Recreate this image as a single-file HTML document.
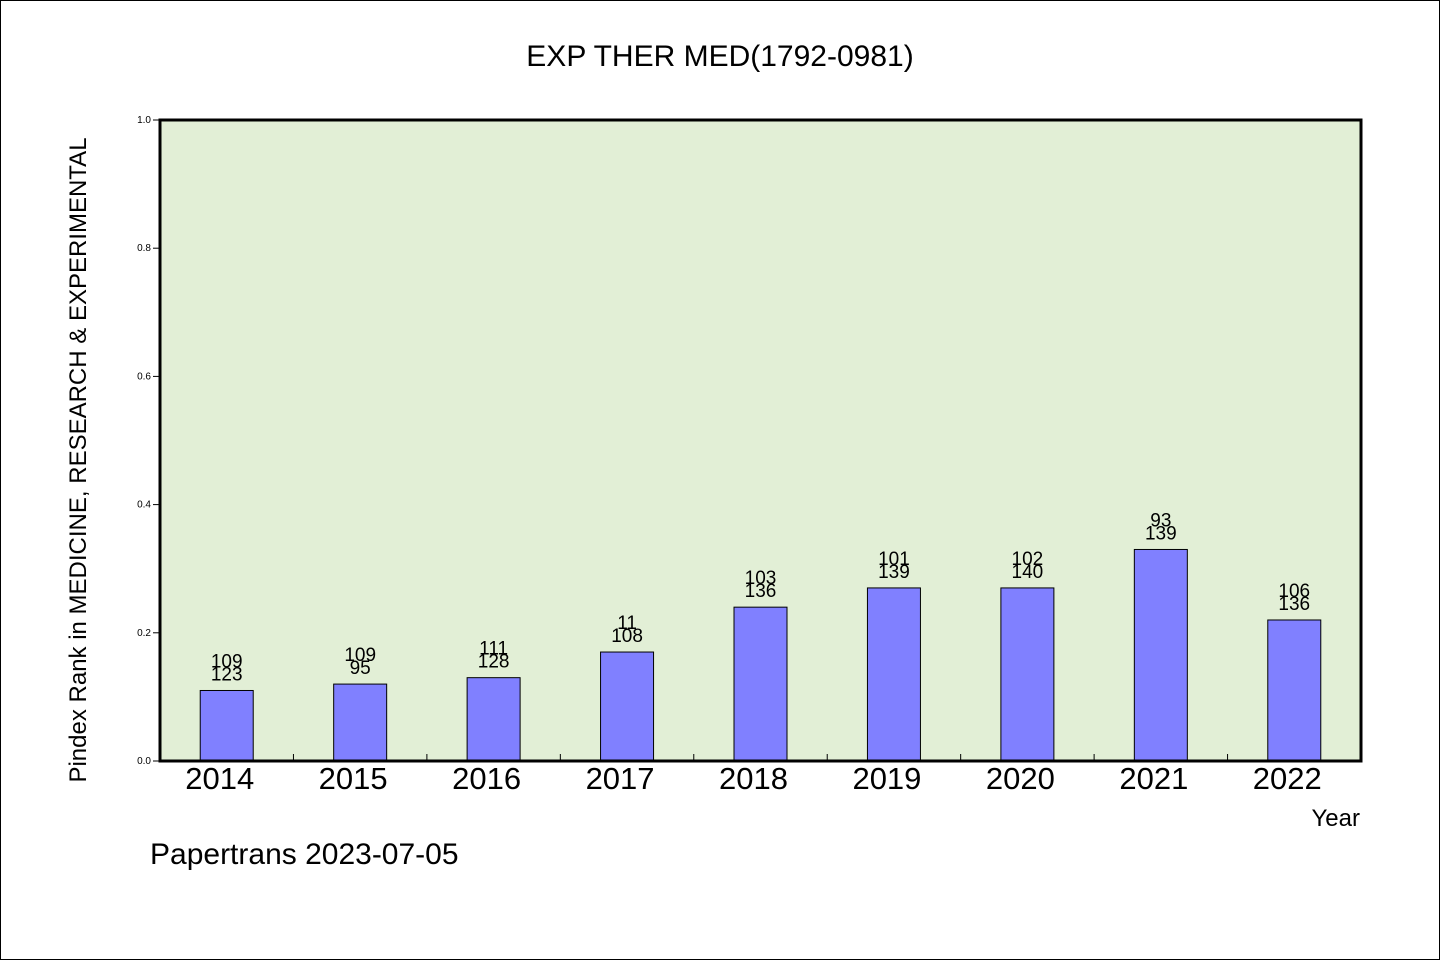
<!DOCTYPE html>
<html><head><meta charset="utf-8"><style>
html,body{margin:0;padding:0;background:#fff}
svg{display:block;font-family:"WenQuanYi Zen Hei","Liberation Sans",sans-serif}
</style></head><body>
<svg id="chart" width="1440" height="960" viewBox="0 0 1440 960" xmlns="http://www.w3.org/2000/svg">
<rect x="0.5" y="0.5" width="1439" height="959" fill="#fff" stroke="#000"/>
<text x="720" y="66" font-size="30" text-anchor="middle">EXP THER MED(1792-0981)</text>
<rect x="160" y="120" width="1201" height="641" fill="#e2efd6"/>
<g id="marks"></g>
<rect x="160" y="120" width="1201" height="641" fill="none" stroke="#000" stroke-width="3"/>
<text transform="translate(86,460) rotate(-90)" font-size="24" text-anchor="middle">Pindex Rank in MEDICINE, RESEARCH &amp; EXPERIMENTAL</text>
<text x="1360" y="826" font-size="24" text-anchor="end">Year</text>
<text x="150" y="864" font-size="30">Papertrans 2023-07-05</text>
</svg>
<script>
const categories=["2014","2015","2016","2017","2018","2019","2020","2021","2022"];
const values=[0.11,0.12,0.13,0.17,0.24,0.27,0.27,0.33,0.22];
const topLabels=["109","109","111","11","103","101","102","93","106"];
const bottomLabels=["123","95","128","108","136","139","140","139","136"];
const yTicks=[0,0.2,0.4,0.6,0.8,1.0];
const X0=160,X1=1361,Y0=761,Y1=120;
const slot=(X1-X0)/categories.length;
const xc=i=>X0+slot*(i+0.5);
const y=v=>Y0-(Y0-Y1)*v;
const g=document.getElementById('marks');
const NS="http://www.w3.org/2000/svg";
function mk(t,a){const e=document.createElementNS(NS,t);for(const k in a)e.setAttribute(k,a[k]);g.appendChild(e);return e;}
yTicks.forEach(v=>{
  const l=mk('line',{x1:X0-7,x2:X0,y1:y(v),y2:y(v),stroke:'#000','stroke-width':1});
  
  
  const t=mk('text',{x:X0-9,y:y(v)+3,'font-size':10,'text-anchor':'end'});
  t.textContent=v.toFixed(1);
  
  
});
for(let i=1;i<categories.length;i++){
  const l=mk('line',{x1:X0+slot*i,x2:X0+slot*i,y1:Y0,y2:Y0-7,stroke:'#000','stroke-width':1});
  
  
}
categories.forEach((c,i)=>{
  const bw=53,cx=xc(i),top=y(values[i]);
  const r=mk('rect',{x:cx-bw/2,y:top,width:bw,height:Y0-top,fill:'#8080ff',stroke:'#000','stroke-width':1});
  
  
  const t1=mk('text',{x:cx,y:top-23,'font-size':19,'text-anchor':'middle'});
  t1.textContent=topLabels[i];
  
  
  const t2=mk('text',{x:cx,y:top-10,'font-size':19,'text-anchor':'middle'});
  t2.textContent=bottomLabels[i];
  
  
  const xl=mk('text',{x:cx-7,y:789,'font-size':31,'text-anchor':'middle'});
  xl.textContent=c;
  
  
});
</script>
</body></html>
